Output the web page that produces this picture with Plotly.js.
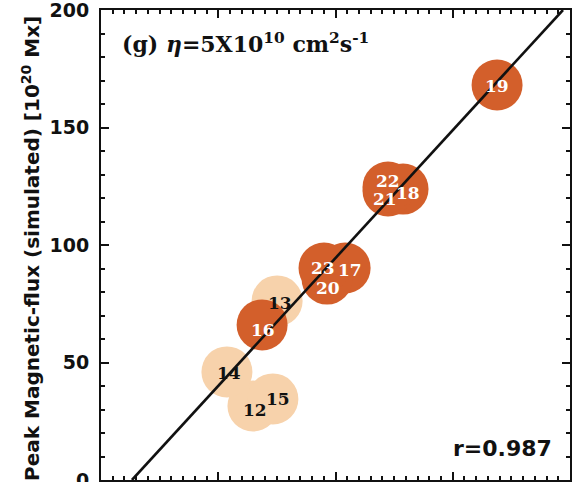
<!DOCTYPE html>
<html>
<head>
<meta charset="utf-8">
<script src="https://cdn.plot.ly/plotly-3.0.1.min.js"></script>
<style>
html,body{margin:0;padding:0;background:#fff;}
#chart{width:574px;height:482px;}
</style>
</head>
<body>
<div id="chart"></div>
<script>
// Data
var ids      = ["12","13","14","15","16","17","18","19","20","21","22","23"];
var observed = [64.8, 75.1, 53.7, 73.3, 68.7, 104.1, 128.8, 168.9, 96.4, 122.4, 122.4, 95.1];
var simulated= [31.5, 76.2, 46.0, 34.5, 66.0, 90.2, 123.8, 168.1, 85.5, 123.0, 124.7, 90.2];
var group    = ["low","low","low","low","high","high","high","high","high","high","high","high"];
var fitX = [13.2, 197.0];
var fitY = [0, 200];
var corr = "0.987";
var yTicks = [0, 50, 100, 150, 200];

// Styles
var DARK = "#D35F2B", LIGHT = "#F7D2AB";
// label offsets in pixels (right, down)
var labelShift = {"12":[2,4],"13":[3,2],"14":[2,1],"15":[5,0],"16":[1,5],"17":[5,2],
                  "18":[5,4],"19":[0,1],"20":[1,9],"21":[-3,8],"22":[0,-6],"23":[-1,0]};

var colors = group.map(function(g){return g==="low"?LIGHT:DARK;});

var traces = [
  {x: observed, y: simulated, type:"scatter", mode:"markers",
   marker:{size:51, color:colors, line:{width:0}}, hoverinfo:"none", showlegend:false},
  {x: fitX, y: fitY, type:"scatter", mode:"lines",
   line:{color:"#111", width:2.6}, hoverinfo:"none", showlegend:false},
  {x: [fitX[0]], y: [fitY[0]], xaxis:"x2", yaxis:"y2", type:"scatter", mode:"markers",
   marker:{size:1, opacity:0}, hoverinfo:"none", showlegend:false}
];

var annotations = ids.map(function(id,i){
  var s = labelShift[id];
  return {x: observed[i], y: simulated[i], xref:"x", yref:"y", text:id, showarrow:false,
          xshift:s[0], yshift:-s[1],
          font:{family:"DejaVu Serif", size:17, color: group[i]==="low"?"#111":"#fff", weight:"bold"}};
});

annotations.push({xref:"paper", yref:"paper", x:0.04, y:0.93, xanchor:"left", yanchor:"middle",
  text:"(g) <i>η</i>=5X10<sup>10</sup> cm<sup>2</sup>s<sup>-1</sup>", showarrow:false,
  font:{family:"DejaVu Serif", size:22, color:"#111", weight:"bold"}});
annotations.push({xref:"paper", yref:"paper", x:0.966, y:0.068, xanchor:"right", yanchor:"middle",
  text:"r="+corr, showarrow:false,
  font:{family:"DejaVu Sans", size:22, color:"#111", weight:"bold"}});
annotations.push({xref:"paper", yref:"paper", x:0, y:0.5, xshift:-70, yshift:-4, xanchor:"center", yanchor:"middle",
  textangle:-90, text:"Peak Magnetic-flux (simulated) [10<sup>20</sup> Mx]", showarrow:false,
  font:{family:"DejaVu Sans", size:20, color:"#111", weight:"bold"}});

var axisCommon = {
  range:[0,200], showgrid:false, zeroline:false, showline:true, linecolor:"#111", linewidth:2,
  mirror:false, ticks:"inside", ticklen:8, tickwidth:2, tickcolor:"#111"
};
var xMinor = {dtick:5, tick0:0, ticks:"inside", ticklen:4, tickwidth:2, tickcolor:"#111"};
var yMinor = {dtick:10, tick0:0, ticks:"inside", ticklen:4, tickwidth:2, tickcolor:"#111"};

var layout = {
  width:574, height:482,
  margin:{l:101, r:4, t:10, b:2},
  paper_bgcolor:"#fff", plot_bgcolor:"#fff",
  xaxis: Object.assign({}, axisCommon, {dtick:50, tick0:0, showticklabels:false, minor:xMinor}),
  xaxis2: Object.assign({}, axisCommon, {dtick:50, tick0:0, showticklabels:false, minor:xMinor,
     overlaying:"x", side:"top"}),
  yaxis: Object.assign({}, axisCommon, {tickvals:yTicks, ticktext:yTicks.map(String),
     ticklabeloverflow:"allow", ticklabelstandoff:6,
     tickfont:{family:"DejaVu Sans", size:19, color:"#111", weight:"bold"}, minor:yMinor}),
  yaxis2: Object.assign({}, axisCommon, {dtick:50, tick0:0, showticklabels:false, minor:yMinor,
     overlaying:"y", side:"right"}),
  annotations: annotations,
  showlegend:false
};

Plotly.newPlot("chart", traces, layout, {staticPlot:true, displayModeBar:false});
</script>
</body>
</html>
